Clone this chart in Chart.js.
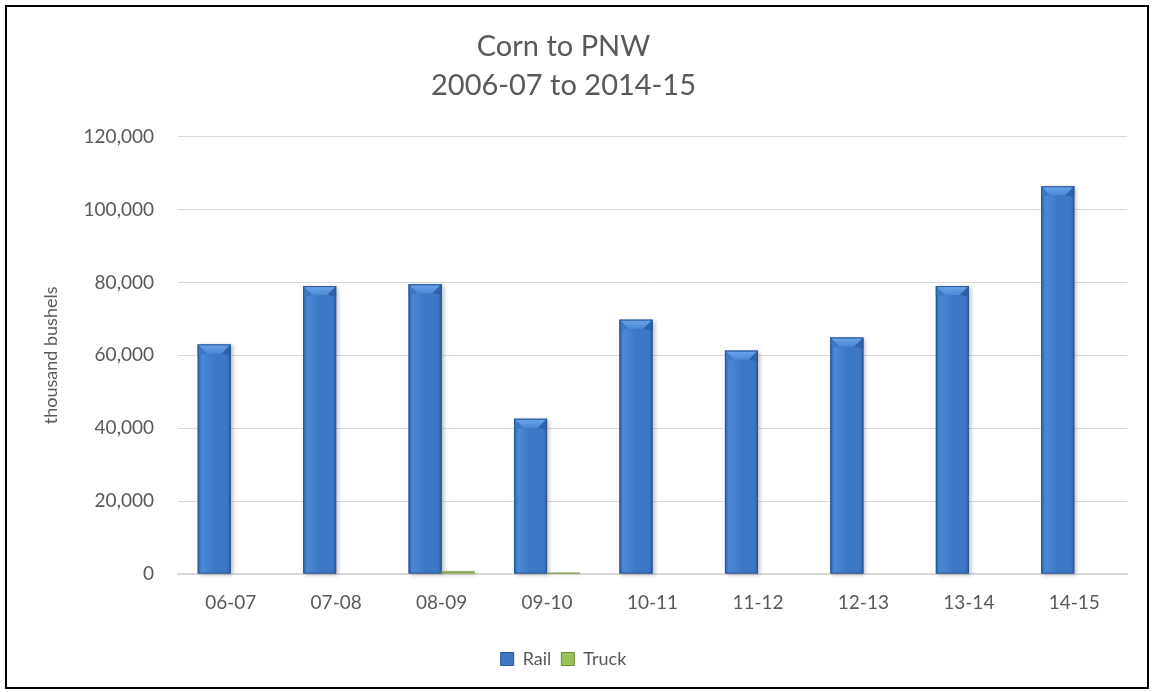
<!DOCTYPE html>
<html>
<head>
<meta charset="utf-8">
<script src="https://cdn.jsdelivr.net/npm/chart.js@4.4.1/dist/chart.umd.min.js"></script>
<style>
  html, body { margin: 0; padding: 0; background: #fff; }
  #wrap { position: relative; width: 1154px; height: 692px; }
  #frame { position: absolute; left: 5px; top: 5px; width: 1140px; height: 680px; border: 2px solid #000; pointer-events: none; }
  canvas { position: absolute; left: 0; top: 0; }
</style>
</head>
<body>
<div id="wrap">
  <canvas id="cornChart" width="1154" height="692"></canvas>
  <div id="frame"></div>
</div>
<script>
const seasons = ['06-07', '07-08', '08-09', '09-10', '10-11', '11-12', '12-13', '13-14', '14-15'];
const railValues = [63000, 79000, 79500, 42600, 69800, 61300, 64900, 79000, 106400];
const truckValues = [0, 0, 700, 300, 0, 0, 0, 0, 0];
const yTicks = [0, 20000, 40000, 60000, 80000, 100000, 120000];

const textColor = '#595959';
const gridColor = '#d9d9d9';

// bars drawn with a bevelled look, on top of the ones chart.js draws
const bevelPlugin = {
    id: 'bevel',
    afterDatasetsDraw(chart) {
        const ctx = chart.ctx;
        const styles = [
            { edge: '#2a5592', dark: '#2f62a8', mid: '#3c78c6', light: '#4b89d6', top: '#6aa6ea' },
            { edge: '#8aa35a', dark: '#9cba62', mid: '#a9cb6c', light: '#b8d77c', top: '#cfe6a2' }
        ];
        chart.data.datasets.forEach(function(ds, i) {
            const meta = chart.getDatasetMeta(i);
            if (meta.hidden) return;
            const s = styles[i];
            meta.data.forEach(function(bar) {
                const p = bar.getProps(['x', 'y', 'base', 'width'], true);
                const l = p.x - p.width / 2, r = p.x + p.width / 2;
                const t = Math.min(p.y, p.base), b = Math.max(p.y, p.base);
                const h = b - t;
                if (h < 0.5) return;
                ctx.save();
                // shadow
                ctx.shadowColor = 'rgba(0,0,0,0.25)';
                ctx.shadowBlur = 4;
                ctx.shadowOffsetX = 2;
                ctx.shadowOffsetY = 1;
                const g = ctx.createLinearGradient(l, 0, r, 0);
                g.addColorStop(0, s.dark);
                g.addColorStop(0.12, s.light);
                g.addColorStop(0.5, s.mid);
                g.addColorStop(0.88, s.mid);
                g.addColorStop(1, s.dark);
                ctx.fillStyle = g;
                ctx.fillRect(l, t, r - l, h);
                ctx.restore();

                ctx.save();
                const d = Math.min(9, h / 2, p.width / 3);
                if (h > 4) {
                    // top bevel
                    const tg = ctx.createLinearGradient(0, t, 0, t + d);
                    tg.addColorStop(0, s.top);
                    tg.addColorStop(1, s.light);
                    ctx.fillStyle = tg;
                    ctx.beginPath();
                    ctx.moveTo(l, t);
                    ctx.lineTo(r, t);
                    ctx.lineTo(r - d, t + d);
                    ctx.lineTo(l + d, t + d);
                    ctx.closePath();
                    ctx.fill();
                    // side corners of the bevel
                    ctx.fillStyle = s.dark;
                    ctx.beginPath();
                    ctx.moveTo(r, t);
                    ctx.lineTo(r - d, t + d);
                    ctx.lineTo(r, t + d + 2);
                    ctx.closePath();
                    ctx.fill();
                    ctx.fillStyle = s.mid;
                    ctx.beginPath();
                    ctx.moveTo(l, t);
                    ctx.lineTo(l + d, t + d);
                    ctx.lineTo(l, t + d + 2);
                    ctx.closePath();
                    ctx.fill();
                }
                ctx.strokeStyle = s.edge;
                ctx.lineWidth = 1;
                ctx.strokeRect(l + 0.5, t + 0.5, r - l - 1, h - 1);
                ctx.restore();
            });
        });
    }
};

const ctx = document.getElementById('cornChart').getContext('2d');
new Chart(ctx, {
    type: 'bar',
    data: {
        labels: seasons,
        datasets: [{
            label: 'Rail',
            data: railValues,
            backgroundColor: '#3c78c6',
            borderColor: '#2a5592',
            borderWidth: 1,
            barPercentage: 1,
            categoryPercentage: 0.626
        }, {
            label: 'Truck',
            data: truckValues,
            backgroundColor: '#9bc25a',
            borderColor: '#6f8a3a',
            borderWidth: 1,
            barPercentage: 1,
            categoryPercentage: 0.626
        }]
    },
    options: {
        responsive: false,
        animation: false,
        layout: { padding: { left: 0, right: 27, top: 0, bottom: 14 } },
        plugins: {
            title: {
                display: true,
                text: ['Corn to PNW', '2006-07 to 2014-15'],
                color: textColor,
                font: { family: 'Lato', size: 29, weight: 'normal', lineHeight: 1.34 },
                padding: { top: 27, bottom: 32 }
            },
            legend: {
                position: 'bottom',
                labels: {
                    color: textColor,
                    font: { family: 'Lato', size: 18 },
                    boxWidth: 13,
                    boxHeight: 13,
                    padding: 10
                }
            },
            tooltip: { enabled: false }
        },
        scales: {
            x: {
                grid: { display: false, drawTicks: false },
                border: { display: true, color: gridColor, width: 2 },
                ticks: { color: textColor, font: { family: 'Lato', size: 19 }, padding: 17, maxRotation: 0 },
                afterFit: function(scale) { scale.height = 66; }
            },
            y: {
                min: 0,
                max: 120000,
                afterBuildTicks: function(scale) { scale.ticks = yTicks.map(v => ({ value: v })); },
                grid: { color: gridColor, lineWidth: 1, drawTicks: false },
                border: { display: false },
                ticks: {
                    color: textColor,
                    font: { family: 'Lato', size: 19 },
                    padding: 24,
                    callback: v => v.toLocaleString('en-US')
                },
                title: {
                    display: true,
                    text: 'thousand bushels',
                    color: textColor,
                    font: { family: 'Lato', size: 18 },
                    padding: { top: 40, bottom: 0 }
                },
                afterFit: function(scale) { scale.width = 178; }
            }
        }
    },
    plugins: [bevelPlugin]
});
</script>
</body>
</html>
